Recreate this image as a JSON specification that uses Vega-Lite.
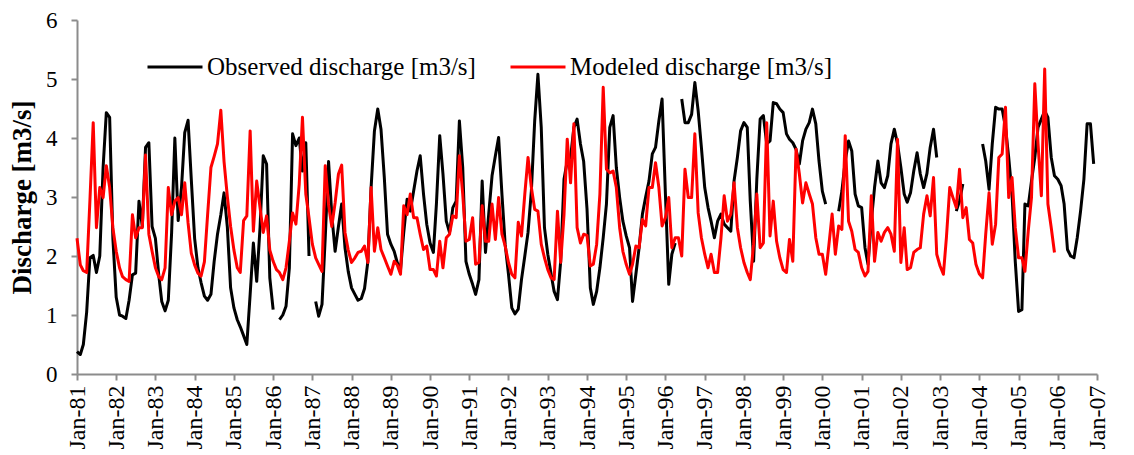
{
"$schema": "https://vega.github.io/schema/vega-lite/v6.json",
"width": 1020, "height": 354,
"autosize": {"type": "none"},
"padding": {"left": 77, "top": 20, "right": 37, "bottom": 81},
"background": "white",
"config": {"view": {"stroke": null}, "font": "Liberation Serif"},
"data": {"format": {"parse": {"d": "utc:'%Y-%m'"}}, "values": [
{"d":"1981-01","obs":0.38,"mod":2.3},{"d":"1981-02","obs":0.33,"mod":1.85},{"d":"1981-03","obs":0.5,"mod":1.75},{"d":"1981-04","obs":1.05,"mod":1.72},{"d":"1981-05","obs":1.97,"mod":2.93},{"d":"1981-06","obs":2.01,"mod":4.26},{"d":"1981-07","obs":1.72,"mod":2.48},{"d":"1981-08","obs":2.0,"mod":3.16},{"d":"1981-09","obs":3.5,"mod":2.99},{"d":"1981-10","obs":4.43,"mod":3.53},{"d":"1981-11","obs":4.35,"mod":3.16},{"d":"1981-12","obs":2.3,"mod":2.48},
{"d":"1982-01","obs":1.3,"mod":2.08},{"d":"1982-02","obs":1.0,"mod":1.8},{"d":"1982-03","obs":0.98,"mod":1.65},{"d":"1982-04","obs":0.94,"mod":1.6},{"d":"1982-05","obs":1.25,"mod":1.57},{"d":"1982-06","obs":1.68,"mod":2.7},{"d":"1982-07","obs":1.71,"mod":2.31},{"d":"1982-08","obs":2.93,"mod":2.48},{"d":"1982-09","obs":2.5,"mod":2.48},{"d":"1982-10","obs":3.84,"mod":3.71},{"d":"1982-11","obs":3.92,"mod":2.37},{"d":"1982-12","obs":2.5,"mod":2.08},
{"d":"1983-01","obs":2.3,"mod":1.8},{"d":"1983-02","obs":1.68,"mod":1.65},{"d":"1983-03","obs":1.23,"mod":1.6},{"d":"1983-04","obs":1.07,"mod":1.8},{"d":"1983-05","obs":1.25,"mod":3.16},{"d":"1983-06","obs":2.4,"mod":2.7},{"d":"1983-07","obs":4.0,"mod":2.93},{"d":"1983-08","obs":2.6,"mod":2.99},{"d":"1983-09","obs":3.16,"mod":2.7},{"d":"1983-10","obs":4.09,"mod":3.24},{"d":"1983-11","obs":4.3,"mod":2.56},{"d":"1983-12","obs":3.3,"mod":2.05},
{"d":"1984-01","obs":2.3,"mod":1.85},{"d":"1984-02","obs":1.8,"mod":1.71},{"d":"1984-03","obs":1.55,"mod":1.66},{"d":"1984-04","obs":1.32,"mod":1.9},{"d":"1984-05","obs":1.25,"mod":2.7},{"d":"1984-06","obs":1.35,"mod":3.5},{"d":"1984-07","obs":1.91,"mod":3.69},{"d":"1984-08","obs":2.37,"mod":3.9},{"d":"1984-09","obs":2.7,"mod":4.47},{"d":"1984-10","obs":3.07,"mod":3.6},{"d":"1984-11","obs":2.48,"mod":3.0},{"d":"1984-12","obs":1.46,"mod":2.5},
{"d":"1985-01","obs":1.12,"mod":2.1},{"d":"1985-02","obs":0.92,"mod":1.8},{"d":"1985-03","obs":0.8,"mod":1.72},{"d":"1985-04","obs":0.65,"mod":2.6},{"d":"1985-05","obs":0.5,"mod":2.68},{"d":"1985-06","obs":1.35,"mod":4.12},{"d":"1985-07","obs":2.22,"mod":2.42},{"d":"1985-08","obs":1.57,"mod":3.27},{"d":"1985-09","obs":2.48,"mod":2.82},{"d":"1985-10","obs":3.7,"mod":2.4},{"d":"1985-11","obs":3.56,"mod":2.68},{"d":"1985-12","obs":1.63,"mod":2.1},
{"d":"1986-01","obs":1.09,"mod":1.91},{"d":"1986-02","obs":null,"mod":1.77},{"d":"1986-03","obs":0.92,"mod":1.72},{"d":"1986-04","obs":1.0,"mod":1.6},{"d":"1986-05","obs":1.15,"mod":1.8},{"d":"1986-06","obs":1.8,"mod":2.25},{"d":"1986-07","obs":4.07,"mod":2.73},{"d":"1986-08","obs":3.87,"mod":2.54},{"d":"1986-09","obs":4.0,"mod":3.22},{"d":"1986-10","obs":3.44,"mod":4.35},{"d":"1986-11","obs":3.92,"mod":3.05},{"d":"1986-12","obs":2.0,"mod":2.65},
{"d":"1987-01","obs":null,"mod":2.2},{"d":"1987-02","obs":1.23,"mod":1.97},{"d":"1987-03","obs":0.98,"mod":1.86},{"d":"1987-04","obs":1.18,"mod":1.74},{"d":"1987-05","obs":2.31,"mod":3.53},{"d":"1987-06","obs":3.6,"mod":2.87},{"d":"1987-07","obs":2.7,"mod":2.5},{"d":"1987-08","obs":2.08,"mod":2.9},{"d":"1987-09","obs":2.5,"mod":3.39},{"d":"1987-10","obs":2.88,"mod":3.54},{"d":"1987-11","obs":2.14,"mod":2.4},{"d":"1987-12","obs":1.74,"mod":2.1},
{"d":"1988-01","obs":1.46,"mod":1.89},{"d":"1988-02","obs":1.35,"mod":1.97},{"d":"1988-03","obs":1.25,"mod":2.06},{"d":"1988-04","obs":1.28,"mod":2.08},{"d":"1988-05","obs":1.45,"mod":2.17},{"d":"1988-06","obs":1.91,"mod":1.89},{"d":"1988-07","obs":3.16,"mod":3.16},{"d":"1988-08","obs":4.12,"mod":2.08},{"d":"1988-09","obs":4.49,"mod":2.48},{"d":"1988-10","obs":4.15,"mod":2.11},{"d":"1988-11","obs":3.33,"mod":1.97},{"d":"1988-12","obs":2.37,"mod":1.83},
{"d":"1989-01","obs":2.2,"mod":1.69},{"d":"1989-02","obs":2.08,"mod":1.91},{"d":"1989-03","obs":1.89,"mod":1.85},{"d":"1989-04","obs":1.77,"mod":1.69},{"d":"1989-05","obs":2.4,"mod":2.85},{"d":"1989-06","obs":2.96,"mod":2.7},{"d":"1989-07","obs":2.76,"mod":3.05},{"d":"1989-08","obs":3.1,"mod":2.65},{"d":"1989-09","obs":3.44,"mod":2.65},{"d":"1989-10","obs":3.7,"mod":2.37},{"d":"1989-11","obs":3.05,"mod":2.11},{"d":"1989-12","obs":2.54,"mod":2.17},
{"d":"1990-01","obs":2.22,"mod":1.77},{"d":"1990-02","obs":2.06,"mod":1.77},{"d":"1990-03","obs":2.88,"mod":1.66},{"d":"1990-04","obs":4.04,"mod":2.25},{"d":"1990-05","obs":3.39,"mod":1.8},{"d":"1990-06","obs":2.59,"mod":2.31},{"d":"1990-07","obs":2.4,"mod":2.37},{"d":"1990-08","obs":2.82,"mod":2.68},{"d":"1990-09","obs":2.93,"mod":2.65},{"d":"1990-10","obs":4.29,"mod":3.7},{"d":"1990-11","obs":3.5,"mod":3.05},{"d":"1990-12","obs":1.91,"mod":2.25},
{"d":"1991-01","obs":1.69,"mod":2.28},{"d":"1991-02","obs":1.52,"mod":2.65},{"d":"1991-03","obs":1.35,"mod":1.86},{"d":"1991-04","obs":1.6,"mod":1.89},{"d":"1991-05","obs":3.27,"mod":2.85},{"d":"1991-06","obs":2.06,"mod":2.25},{"d":"1991-07","obs":2.71,"mod":2.25},{"d":"1991-08","obs":3.36,"mod":2.88},{"d":"1991-09","obs":3.7,"mod":2.28},{"d":"1991-10","obs":4.01,"mod":2.99},{"d":"1991-11","obs":3.05,"mod":2.37},{"d":"1991-12","obs":2.2,"mod":2.17},
{"d":"1992-01","obs":1.69,"mod":1.89},{"d":"1992-02","obs":1.12,"mod":1.69},{"d":"1992-03","obs":1.02,"mod":1.63},{"d":"1992-04","obs":1.1,"mod":2.57},{"d":"1992-05","obs":1.6,"mod":2.34},{"d":"1992-06","obs":2.0,"mod":3.05},{"d":"1992-07","obs":2.4,"mod":3.67},{"d":"1992-08","obs":3.1,"mod":3.16},{"d":"1992-09","obs":4.29,"mod":2.79},{"d":"1992-10","obs":5.08,"mod":2.76},{"d":"1992-11","obs":4.18,"mod":2.2},{"d":"1992-12","obs":2.48,"mod":1.97},
{"d":"1993-01","obs":2.03,"mod":1.77},{"d":"1993-02","obs":1.69,"mod":1.63},{"d":"1993-03","obs":1.4,"mod":1.6},{"d":"1993-04","obs":1.26,"mod":2.76},{"d":"1993-05","obs":1.91,"mod":1.89},{"d":"1993-06","obs":3.3,"mod":2.7},{"d":"1993-07","obs":3.61,"mod":3.98},{"d":"1993-08","obs":3.67,"mod":3.24},{"d":"1993-09","obs":4.18,"mod":4.24},{"d":"1993-10","obs":4.32,"mod":2.48},{"d":"1993-11","obs":3.9,"mod":2.22},{"d":"1993-12","obs":3.6,"mod":2.37},
{"d":"1994-01","obs":2.8,"mod":2.35},{"d":"1994-02","obs":1.46,"mod":1.83},{"d":"1994-03","obs":1.18,"mod":1.86},{"d":"1994-04","obs":1.4,"mod":2.2},{"d":"1994-05","obs":1.8,"mod":3.05},{"d":"1994-06","obs":2.31,"mod":4.86},{"d":"1994-07","obs":2.88,"mod":3.47},{"d":"1994-08","obs":4.18,"mod":3.41},{"d":"1994-09","obs":4.38,"mod":3.44},{"d":"1994-10","obs":3.5,"mod":3.16},{"d":"1994-11","obs":2.99,"mod":2.48},{"d":"1994-12","obs":2.59,"mod":2.08},
{"d":"1995-01","obs":2.34,"mod":1.86},{"d":"1995-02","obs":2.14,"mod":1.69},{"d":"1995-03","obs":1.23,"mod":1.86},{"d":"1995-04","obs":1.69,"mod":2.17},{"d":"1995-05","obs":2.14,"mod":2.14},{"d":"1995-06","obs":2.71,"mod":2.62},{"d":"1995-07","obs":3.0,"mod":2.51},{"d":"1995-08","obs":3.27,"mod":3.16},{"d":"1995-09","obs":3.73,"mod":3.16},{"d":"1995-10","obs":3.84,"mod":3.58},{"d":"1995-11","obs":4.29,"mod":3.16},{"d":"1995-12","obs":4.66,"mod":2.51},
{"d":"1996-01","obs":3.05,"mod":2.65},{"d":"1996-02","obs":1.52,"mod":2.99},{"d":"1996-03","obs":2.03,"mod":2.14},{"d":"1996-04","obs":2.22,"mod":2.31},{"d":"1996-05","obs":null,"mod":2.31},{"d":"1996-06","obs":4.66,"mod":2.0},{"d":"1996-07","obs":4.26,"mod":3.47},{"d":"1996-08","obs":4.26,"mod":2.99},{"d":"1996-09","obs":4.4,"mod":2.99},{"d":"1996-10","obs":4.94,"mod":4.07},{"d":"1996-11","obs":4.46,"mod":2.73},{"d":"1996-12","obs":3.84,"mod":2.31},
{"d":"1997-01","obs":3.16,"mod":2.03},{"d":"1997-02","obs":2.82,"mod":1.8},{"d":"1997-03","obs":2.59,"mod":2.03},{"d":"1997-04","obs":2.31,"mod":1.72},{"d":"1997-05","obs":2.59,"mod":1.72},{"d":"1997-06","obs":2.71,"mod":2.3},{"d":"1997-07","obs":2.54,"mod":3.02},{"d":"1997-08","obs":2.48,"mod":2.59},{"d":"1997-09","obs":2.42,"mod":2.71},{"d":"1997-10","obs":3.27,"mod":3.24},{"d":"1997-11","obs":3.67,"mod":2.48},{"d":"1997-12","obs":4.12,"mod":2.14},
{"d":"1998-01","obs":4.26,"mod":1.89},{"d":"1998-02","obs":4.18,"mod":1.72},{"d":"1998-03","obs":2.93,"mod":1.6},{"d":"1998-04","obs":1.91,"mod":2.2},{"d":"1998-05","obs":3.3,"mod":3.05},{"d":"1998-06","obs":4.32,"mod":2.14},{"d":"1998-07","obs":4.38,"mod":2.22},{"d":"1998-08","obs":3.9,"mod":4.26},{"d":"1998-09","obs":3.95,"mod":2.34},{"d":"1998-10","obs":4.6,"mod":2.93},{"d":"1998-11","obs":4.58,"mod":2.25},{"d":"1998-12","obs":4.49,"mod":1.97},
{"d":"1999-01","obs":4.43,"mod":1.77},{"d":"1999-02","obs":4.07,"mod":1.72},{"d":"1999-03","obs":3.98,"mod":2.28},{"d":"1999-04","obs":3.92,"mod":1.91},{"d":"1999-05","obs":3.81,"mod":3.81},{"d":"1999-06","obs":3.56,"mod":3.39},{"d":"1999-07","obs":3.95,"mod":2.9},{"d":"1999-08","obs":4.15,"mod":3.24},{"d":"1999-09","obs":4.26,"mod":3.05},{"d":"1999-10","obs":4.49,"mod":2.88},{"d":"1999-11","obs":4.24,"mod":2.31},{"d":"1999-12","obs":3.61,"mod":2.03},
{"d":"2000-01","obs":3.1,"mod":2.03},{"d":"2000-02","obs":2.88,"mod":1.69},{"d":"2000-03","obs":null,"mod":2.17},{"d":"2000-04","obs":null,"mod":2.71},{"d":"2000-05","obs":null,"mod":2.03},{"d":"2000-06","obs":2.76,"mod":2.51},{"d":"2000-07","obs":3.1,"mod":2.45},{"d":"2000-08","obs":3.61,"mod":4.04},{"d":"2000-09","obs":3.95,"mod":2.59},{"d":"2000-10","obs":3.78,"mod":2.42},{"d":"2000-11","obs":3.05,"mod":2.11},{"d":"2000-12","obs":2.85,"mod":2.06},
{"d":"2001-01","obs":2.82,"mod":1.8},{"d":"2001-02","obs":2.14,"mod":1.66},{"d":"2001-03","obs":1.86,"mod":1.74},{"d":"2001-04","obs":2.59,"mod":3.02},{"d":"2001-05","obs":3.16,"mod":1.91},{"d":"2001-06","obs":3.61,"mod":2.4},{"d":"2001-07","obs":3.24,"mod":2.25},{"d":"2001-08","obs":3.16,"mod":2.4},{"d":"2001-09","obs":3.36,"mod":2.48},{"d":"2001-10","obs":3.9,"mod":2.37},{"d":"2001-11","obs":4.15,"mod":2.08},{"d":"2001-12","obs":3.9,"mod":3.98},
{"d":"2002-01","obs":3.5,"mod":1.89},{"d":"2002-02","obs":3.05,"mod":2.48},{"d":"2002-03","obs":2.91,"mod":1.77},{"d":"2002-04","obs":3.07,"mod":1.8},{"d":"2002-05","obs":3.44,"mod":2.06},{"d":"2002-06","obs":3.75,"mod":2.11},{"d":"2002-07","obs":3.39,"mod":2.14},{"d":"2002-08","obs":3.16,"mod":2.71},{"d":"2002-09","obs":3.4,"mod":3.02},{"d":"2002-10","obs":3.84,"mod":2.68},{"d":"2002-11","obs":4.15,"mod":3.33},{"d":"2002-12","obs":3.67,"mod":2.03},
{"d":"2003-01","obs":null,"mod":1.83},{"d":"2003-02","obs":null,"mod":1.69},{"d":"2003-03","obs":null,"mod":2.31},{"d":"2003-04","obs":null,"mod":3.16},{"d":"2003-05","obs":null,"mod":2.99},{"d":"2003-06","obs":2.76,"mod":2.82},{"d":"2003-07","obs":2.93,"mod":3.47},{"d":"2003-08","obs":3.22,"mod":2.65},{"d":"2003-09","obs":null,"mod":2.82},{"d":"2003-10","obs":null,"mod":2.28},{"d":"2003-11","obs":null,"mod":2.22},{"d":"2003-12","obs":null,"mod":1.86},
{"d":"2004-01","obs":null,"mod":1.7},{"d":"2004-02","obs":3.9,"mod":1.63},{"d":"2004-03","obs":3.61,"mod":2.37},{"d":"2004-04","obs":3.13,"mod":3.07},{"d":"2004-05","obs":3.9,"mod":2.2},{"d":"2004-06","obs":4.52,"mod":2.54},{"d":"2004-07","obs":4.49,"mod":3.67},{"d":"2004-08","obs":4.49,"mod":3.73},{"d":"2004-09","obs":4.18,"mod":4.52},{"d":"2004-10","obs":3.67,"mod":2.99},{"d":"2004-11","obs":3.05,"mod":3.33},{"d":"2004-12","obs":1.91,"mod":2.48},
{"d":"2005-01","obs":1.06,"mod":1.97},{"d":"2005-02","obs":1.09,"mod":1.97},{"d":"2005-03","obs":2.88,"mod":1.74},{"d":"2005-04","obs":2.85,"mod":2.42},{"d":"2005-05","obs":3.27,"mod":2.99},{"d":"2005-06","obs":3.67,"mod":4.92},{"d":"2005-07","obs":4.18,"mod":3.9},{"d":"2005-08","obs":4.32,"mod":3.02},{"d":"2005-09","obs":4.46,"mod":5.17},{"d":"2005-10","obs":4.35,"mod":2.88},{"d":"2005-11","obs":3.67,"mod":2.48},{"d":"2005-12","obs":3.36,"mod":2.06},
{"d":"2006-01","obs":3.3,"mod":null},{"d":"2006-02","obs":3.19,"mod":null},{"d":"2006-03","obs":2.88,"mod":null},{"d":"2006-04","obs":2.11,"mod":null},{"d":"2006-05","obs":2.0,"mod":null},{"d":"2006-06","obs":1.97,"mod":null},{"d":"2006-07","obs":2.31,"mod":null},{"d":"2006-08","obs":2.76,"mod":null},{"d":"2006-09","obs":3.3,"mod":null},{"d":"2006-10","obs":4.24,"mod":null},{"d":"2006-11","obs":4.24,"mod":null},{"d":"2006-12","obs":3.56,"mod":null}
]},
"transform": [{"fold": ["obs", "mod"], "as": ["s", "v"]}],
"mark": {"type": "line", "strokeWidth": 3, "invalid": "break-paths-show-domains", "strokeJoin": "round"},
"encoding": {
  "x": {"field": "d", "type": "temporal",
    "scale": {"type": "utc", "nice": false, "domain": [{"year": 1981, "month": 1, "date": 1, "utc": true}, {"year": 2007, "month": 1, "date": 1, "utc": true}]},
    "axis": {"title": null, "format": "%b-%y", "tickCount": {"interval": "year", "step": 1}, "labelAngle": 270, "labelAlign": "right", "labelBaseline": "middle", "labelFont": "Liberation Serif", "labelFontSize": 24, "labelColor": "black", "labelPadding": 5, "tickSize": 6, "domainColor": "#8c8c8c", "tickColor": "#8c8c8c", "domainWidth": 2, "tickWidth": 2, "grid": false, "labelOverlap": false, "labelFlush": false}},
  "y": {"field": "v", "type": "quantitative",
    "scale": {"domain": [0, 6], "nice": false},
    "axis": {"title": "Discharge [m3/s]", "titleFont": "Liberation Serif", "titleFontSize": 27, "titleFontWeight": "bold", "titleColor": "black", "titlePadding": 9, "values": [0, 1, 2, 3, 4, 5, 6], "format": "d", "grid": false, "labelFont": "Liberation Serif", "labelFontSize": 23, "labelColor": "black", "labelPadding": 14, "tickSize": 6, "domainColor": "#8c8c8c", "tickColor": "#8c8c8c", "domainWidth": 2, "tickWidth": 2}},
  "color": {"field": "s", "type": "nominal",
    "scale": {"domain": ["obs", "mod"], "range": ["#000000", "#ff0000"]},
    "legend": {"title": null, "orient": "none", "legendX": 69, "legendY": 18, "direction": "horizontal", "symbolType": "stroke", "symbolSize": 3025, "symbolStrokeWidth": 3, "labelOffset": 3, "columnPadding": 28, "labelFont": "Liberation Serif", "labelFontSize": 25, "labelColor": "black", "labelLimit": 0,
      "labelExpr": "datum.value == 'obs' ? 'Observed discharge [m3/s]' : 'Modeled discharge [m3/s]'"}}
}
}
